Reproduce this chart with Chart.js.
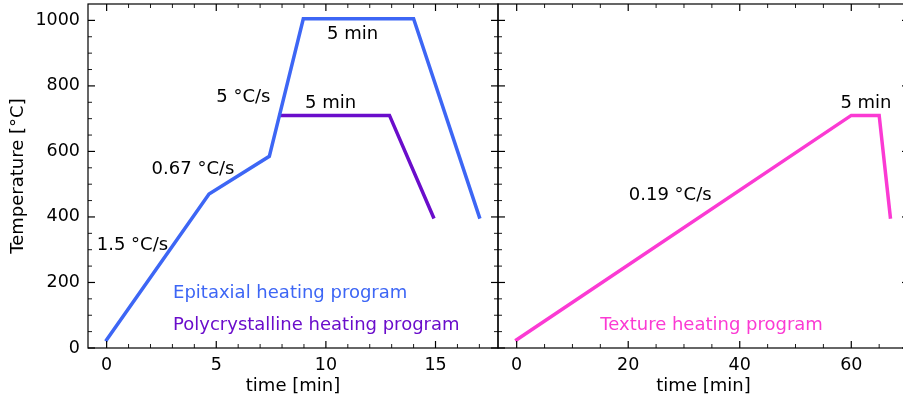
<!DOCTYPE html>
<html>
<head>
<meta charset="utf-8">
<script src="https://cdn.jsdelivr.net/npm/chart.js@4.4.1/dist/chart.umd.min.js"></script>
<style>
  html, body { margin: 0; padding: 0; background: #fff; overflow: hidden; }
  #wrap { position: relative; width: 903px; height: 402px; overflow: hidden; }
  canvas { position: absolute; top: 0; }
  #left { left: 0; }
  #right { left: 496px; }
</style>
</head>
<body>
<div id="wrap">
  <canvas id="left" width="500" height="402"></canvas>
  <canvas id="right" width="415" height="402"></canvas>
</div>
<script>
// --- heating programs: time [min] / temperature [°C] ---
const epiTime = [0, 4.67, 7.42, 8.97, 14, 17];
const epiTemp = [25, 470, 585, 1005, 1005, 400];
const polyTime = [7.9, 12.9, 14.9];
const polyTemp = [710, 710, 400];
const texTime = [0, 60, 65, 67];
const texTemp = [25, 710, 710, 400];

// --- tick labels ---
const tempTicks = [0, 200, 400, 600, 800, 1000];
const leftTimeTicks = [0, 5, 10, 15];
const rightTimeTicks = [0, 20, 40, 60];

const BLUE = '#3d66f5';
const PURPLE = '#6a0dcb';
const PINK = '#fb3ad3';
const BLACK = '#000000';
const TICK_FONT = { family: 'DejaVu Sans', size: 17.5 };
const TEXT_FONT = { family: 'DejaVu Sans', size: 18 };

// text labels, placed in data coordinates
const leftNotes = [
    { text: '1.5 °C/s', x: -0.45, y: 314, color: BLACK },
    { text: '0.67 °C/s', x: 2.05, y: 546, color: BLACK },
    { text: '5 °C/s', x: 5.0, y: 765, color: BLACK },
    { text: '5 min', x: 10.05, y: 957, color: BLACK },
    { text: '5 min', x: 9.05, y: 748, color: BLACK },
    { text: 'Epitaxial heating program', x: 3.03, y: 167, color: BLUE },
    { text: 'Polycrystalline heating program', x: 3.03, y: 70, color: PURPLE }
];
const rightNotes = [
    { text: '0.19 °C/s', x: 20.1, y: 466, color: BLACK },
    { text: '5 min', x: 58.05, y: 748, color: BLACK },
    { text: 'Texture heating program', x: 15.0, y: 70, color: PINK }
];

function points(xs, ys) {
    return xs.map((x, i) => ({ x: x, y: ys[i] }));
}

function steps(from, to, step, skip) {
    const out = [];
    for (let v = from; v <= to + 1e-9; v += step) {
        if (v % skip !== 0) out.push(v);
    }
    return out;
}

// matplotlib-style frame with inward major/minor ticks on every side
const frameTicks = {
    id: 'frameTicks',
    afterDraw(chart, args, opts) {
        const { ctx, chartArea: a } = chart;
        const xs = chart.scales.x, ys = chart.scales.y;
        ctx.save();
        ctx.strokeStyle = BLACK;
        const seg = (x1, y1, x2, y2, w) => {
            ctx.lineWidth = w;
            ctx.beginPath();
            ctx.moveTo(x1, y1);
            ctx.lineTo(x2, y2);
            ctx.stroke();
        };
        const xTick = (v, len, w) => {
            const px = xs.getPixelForValue(v);
            seg(px, a.bottom, px, a.bottom - len, w);
            seg(px, a.top, px, a.top + len, w);
        };
        const yTick = (v, len, w) => {
            const py = ys.getPixelForValue(v);
            seg(a.left, py, a.left + len, py, w);
            seg(a.right, py, a.right - len, py, w);
        };
        opts.xMajor.forEach(v => xTick(v, 7, 1.2));
        opts.xMinor.forEach(v => xTick(v, 4, 0.9));
        opts.yMajor.forEach(v => yTick(v, 7, 1.2));
        opts.yMinor.forEach(v => yTick(v, 4, 0.9));
        ctx.lineWidth = 1.2;
        ctx.strokeRect(a.left, a.top, a.right - a.left, a.bottom - a.top);
        ctx.restore();
    }
};

const notes = {
    id: 'notes',
    afterDatasetsDraw(chart, args, opts) {
        const { ctx } = chart;
        ctx.save();
        ctx.font = TEXT_FONT.size + 'px "' + TEXT_FONT.family + '"';
        ctx.textAlign = 'left';
        ctx.textBaseline = 'middle';
        opts.items.forEach(n => {
            ctx.fillStyle = n.color;
            ctx.fillText(n.text, chart.scales.x.getPixelForValue(n.x), chart.scales.y.getPixelForValue(n.y));
        });
        ctx.restore();
    }
};

function lineSet(xs, ys, color) {
    return {
        data: points(xs, ys),
        borderColor: color,
        borderWidth: 3.5,
        pointRadius: 0,
        tension: 0,
        fill: false,
        borderCapStyle: 'square',
        borderJoinStyle: 'miter'
    };
}

function timeAxis(min, max, labels) {
    return {
        type: 'linear',
        min: min, max: max,
        afterBuildTicks: s => { s.ticks = labels.map(v => ({ value: v })); },
        afterFit: s => { s.height = 54; s.paddingLeft = 0; s.paddingRight = 0; },
        grid: { display: false, drawTicks: false },
        border: { display: false },
        ticks: { color: BLACK, font: TICK_FONT, padding: 7, maxRotation: 0, callback: v => String(v) },
        title: { display: true, text: 'time [min]', color: BLACK, font: TEXT_FONT, padding: { bottom: 5, top: 0 } }
    };
}

const yMinor = steps(50, 1000, 50, 200);

// --- left panel: epitaxial + polycrystalline ---
new Chart(document.getElementById('left'), {
    type: 'line',
    data: {
        datasets: [
            lineSet(epiTime, epiTemp, BLUE),
            lineSet(polyTime, polyTemp, PURPLE)
        ]
    },
    options: {
        responsive: false,
        animation: false,
        layout: { padding: { top: 4, right: 2, bottom: 0, left: 0 } },
        plugins: {
            legend: { display: false },
            tooltip: { enabled: false },
            frameTicks: { xMajor: leftTimeTicks, xMinor: steps(1, 17, 1, 5), yMajor: tempTicks, yMinor: yMinor },
            notes: { items: leftNotes }
        },
        scales: {
            x: timeAxis(-0.85, 17.85, leftTimeTicks),
            y: {
                type: 'linear',
                min: 0, max: 1050,
                afterBuildTicks: s => { s.ticks = tempTicks.map(v => ({ value: v })); },
                afterFit: s => { s.width = 88; s.paddingTop = 0; s.paddingBottom = 0; },
                grid: { display: false, drawTicks: false },
                border: { display: false },
                ticks: { color: BLACK, font: TICK_FONT, padding: 8, callback: v => String(v) },
                title: { display: true, text: 'Temperature [°C]', color: BLACK, font: TEXT_FONT, padding: { top: 8, bottom: 0 } }
            }
        }
    },
    plugins: [frameTicks, notes]
});

// --- right panel: texture ---
new Chart(document.getElementById('right'), {
    type: 'line',
    data: {
        datasets: [lineSet(texTime, texTemp, PINK)]
    },
    options: {
        responsive: false,
        animation: false,
        layout: { padding: { top: 4, right: 2, bottom: 0, left: 2 } },
        plugins: {
            legend: { display: false },
            tooltip: { enabled: false },
            frameTicks: { xMajor: rightTimeTicks, xMinor: steps(5, 70, 5, 20), yMajor: tempTicks, yMinor: yMinor },
            notes: { items: rightNotes }
        },
        scales: {
            x: timeAxis(-3.35, 70.35, rightTimeTicks),
            y: {
                type: 'linear',
                display: false,
                min: 0, max: 1050
            }
        }
    },
    plugins: [frameTicks, notes]
});
</script>
</body>
</html>
